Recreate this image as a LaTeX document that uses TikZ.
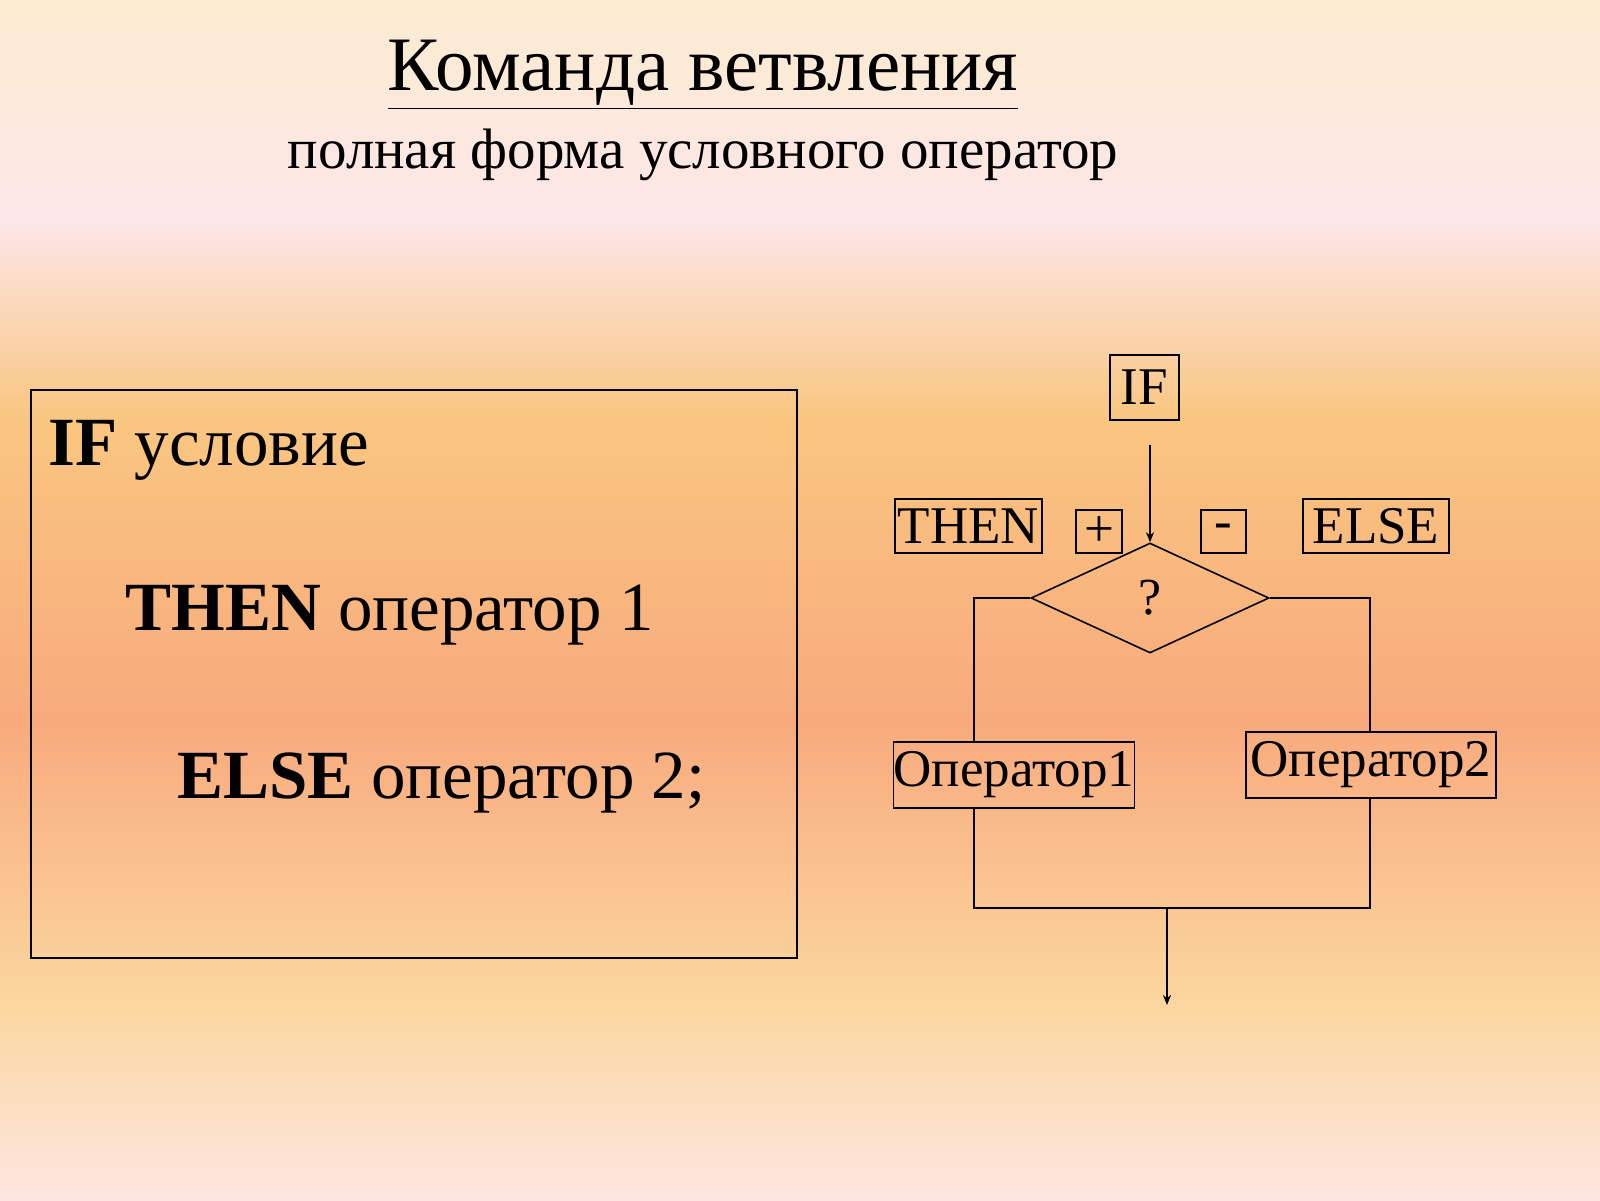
\documentclass[tikz,border=0pt]{standalone}
\usepackage{fontspec}
\setmainfont{Liberation Serif}
\usetikzlibrary{shapes.geometric,arrows.meta}
\begin{document}
\begin{tikzpicture}[x=0.5pt,y=-0.5pt,
  box/.style={draw,line width=0.8pt,inner sep=0pt,font=\fontsize{26.5}{30}\selectfont},
  ln/.style={line width=0.8pt},
  arr/.style={ln,-{Stealth[length=5pt,width=4pt]}}]
\useasboundingbox (0,0) rectangle (1600,1200);
\shade[top color={rgb,255:red,251;green,236;blue,208},bottom color={rgb,255:red,253;green,230;blue,232}] (0,0) rectangle (1600,220);
\shade[top color={rgb,255:red,253;green,230;blue,232},bottom color={rgb,255:red,249;green,198;blue,128}] (0,220) rectangle (1600,420);
\shade[top color={rgb,255:red,249;green,198;blue,128},bottom color={rgb,255:red,248;green,170;blue,125}] (0,420) rectangle (1600,720);
\shade[top color={rgb,255:red,248;green,170;blue,125},bottom color={rgb,255:red,251;green,214;blue,158}] (0,720) rectangle (1600,1000);
\shade[top color={rgb,255:red,251;green,214;blue,158},bottom color={rgb,255:red,253;green,230;blue,225}] (0,1000) rectangle (1600,1200);
\node (title) at (703,75) {\fontsize{38.5}{42}\selectfont\underline{Команда ветвления}};
\node (sub) at (703,155) {\fontsize{28.5}{32}\selectfont полная форма условного оператор};
\node[draw,line width=1pt,minimum width=383pt,minimum height=284pt] (lbox) at (414,674) {};
\node[anchor=base west,inner sep=0pt,font=\fontsize{34.5}{38}\selectfont] (l1) at (48,465) {\textbf{IF} условие};
\node[anchor=base west,inner sep=0pt,font=\fontsize{34.5}{38}\selectfont] (l2) at (125,630) {\textbf{THEN} оператор 1};
\node[anchor=base west,inner sep=0pt,font=\fontsize{34.5}{38}\selectfont] (l3) at (177,798) {\textbf{ELSE} оператор 2;};
\node[box,minimum width=34.5pt,minimum height=32.5pt] (if) at (1144.5,387.5) {IF};
\node[box,minimum width=73.5pt,minimum height=27pt] (then) at (968.5,526) {THEN};
\node[box,minimum width=23pt,minimum height=21.5pt] (plus) at (1099,531.5) {+};
\node[box,minimum width=22.5pt,minimum height=21.5pt] (minus) at (1223.5,531.5) {-};
\node[box,minimum width=73pt,minimum height=27pt] (else) at (1376,526) {ELSE};
\node[draw,ln,diamond,aspect=2.16,minimum width=119pt,minimum height=55pt,inner sep=0pt,font=\fontsize{26}{30}\selectfont] (q) at (1150,598) {?};
\node[box,minimum width=119pt,minimum height=33pt] (op1) at (1014,775) {Оператор1};
\node[box,minimum width=125pt,minimum height=33pt] (op2) at (1371,765) {Оператор2};
\coordinate (ifs) at (1150,445);
\coordinate (jl) at (974,908);
\coordinate (jr) at (1370,908);
\coordinate (jm) at (1167,908);
\coordinate (end) at (1167,1005);
\draw[arr] (ifs) -- (q.north);
\draw[ln] (q.west) -| (op1.north -| jl);
\draw[ln] (q.east) -| (op2.north -| jr);
\draw[ln] (op1.south -| jl) -- (jl) -- (jr) -- (op2.south -| jr);
\draw[arr] (jm) -- (end);
\end{tikzpicture}
\end{document}
